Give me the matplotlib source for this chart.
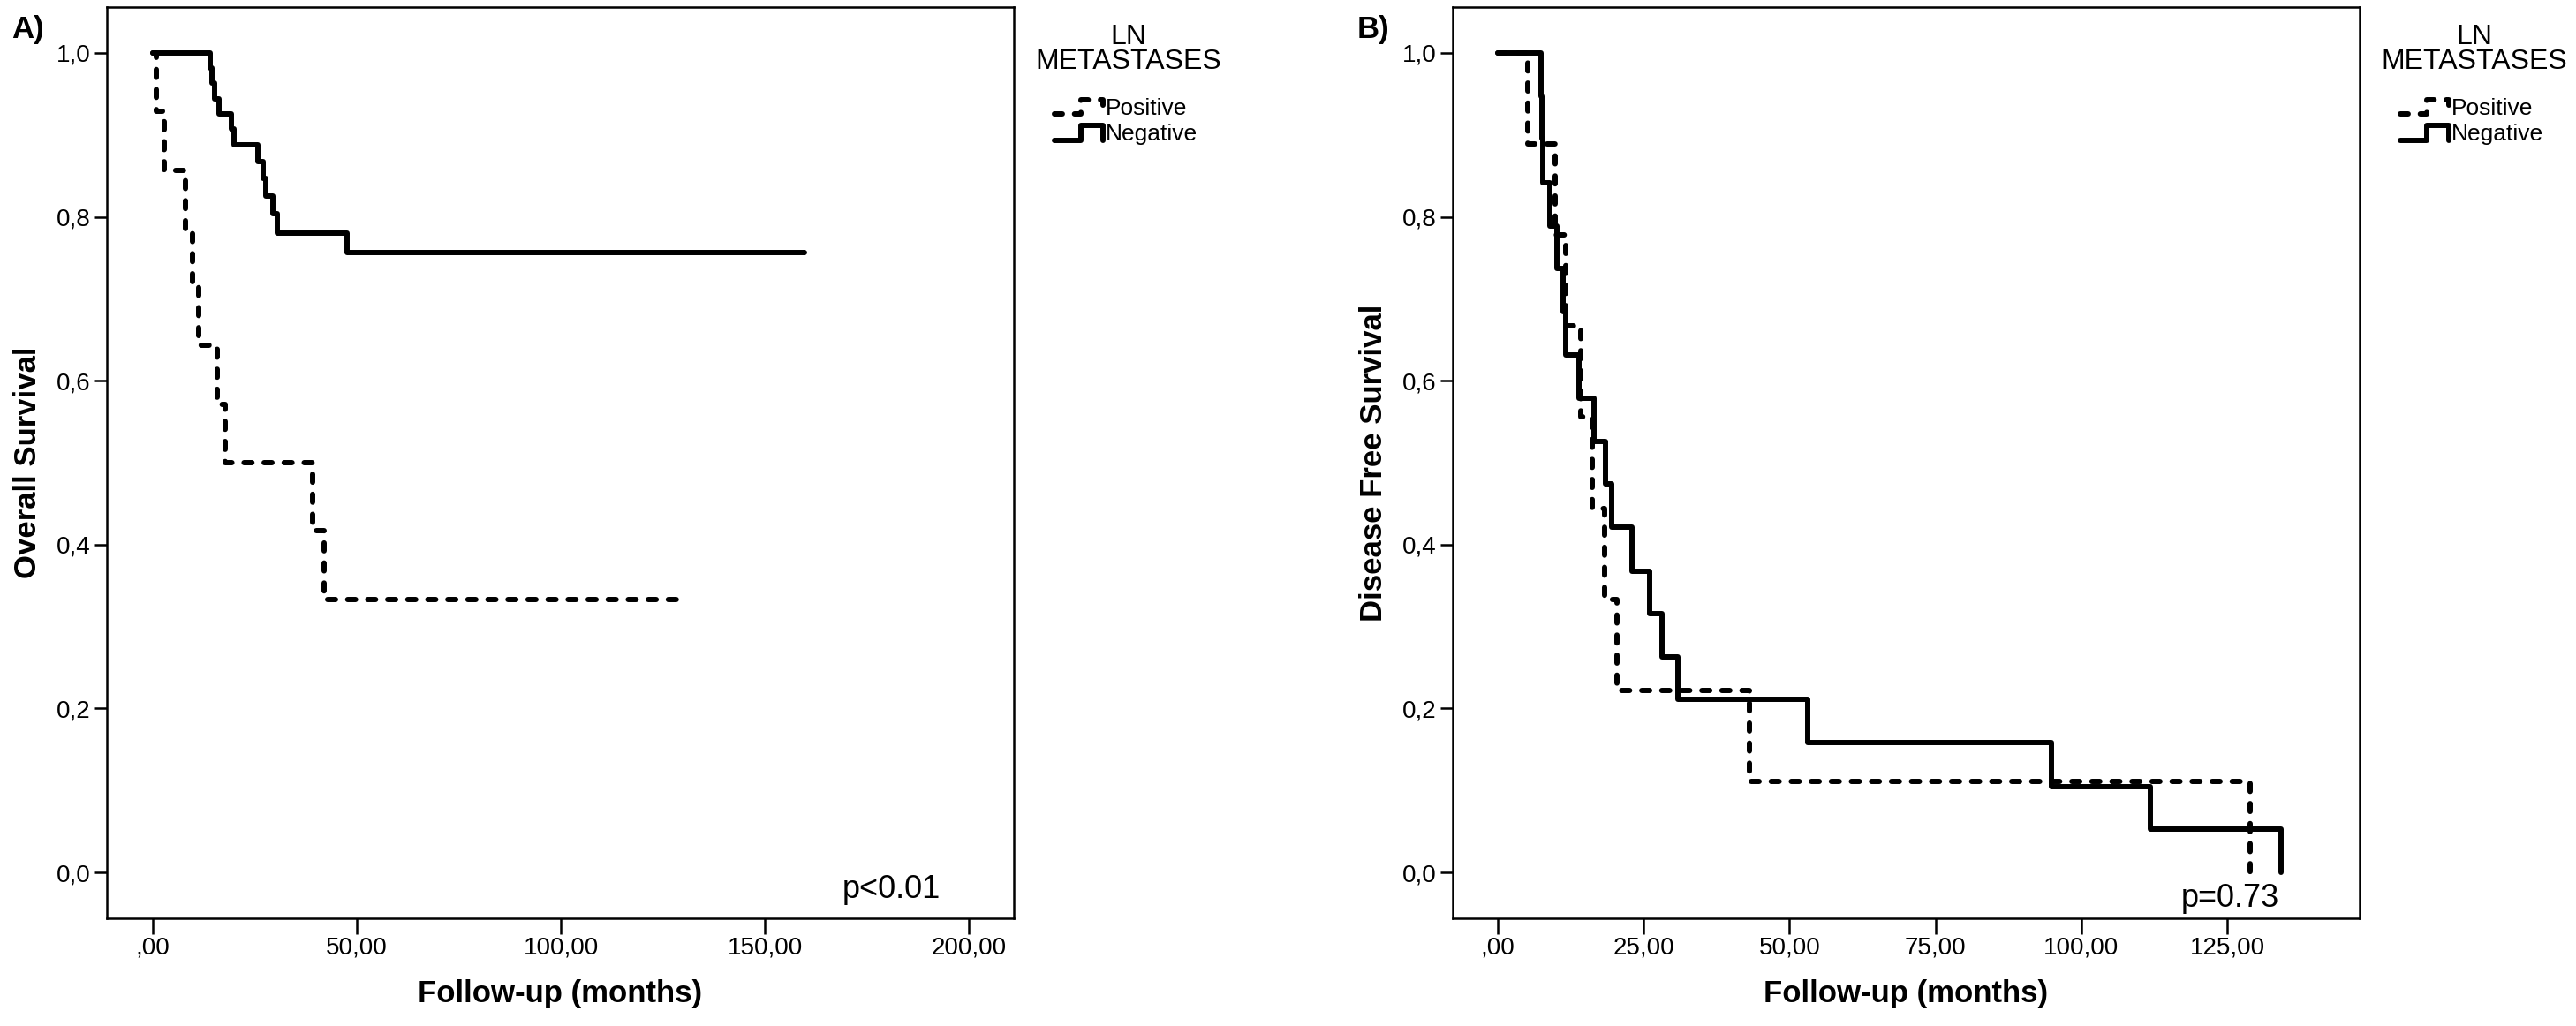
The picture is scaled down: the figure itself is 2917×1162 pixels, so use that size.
import matplotlib
matplotlib.use("Agg")
import matplotlib.pyplot as plt
from matplotlib.lines import Line2D
from matplotlib.legend_handler import HandlerBase

plt.rcParams['font.family'] = ['Liberation Sans', 'DejaVu Sans']

# ---- data ----
# Panel A: overall survival
os_pos_time = [0, 0.8, 2.8, 8.0, 9.8, 11.2, 15.8, 17.7, 39.2, 42.0, 128.7]
os_pos_surv = [1.0, 0.929, 0.857, 0.786, 0.714, 0.643, 0.571, 0.500, 0.417, 0.333, 0.333]
os_neg_time = [0, 14.1, 14.6, 15.2, 16.3, 19.2, 19.9, 25.7, 27.0, 27.8, 29.5, 30.5, 47.7, 159.7]
os_neg_surv = [1.0, 0.982, 0.963, 0.944, 0.926, 0.907, 0.888, 0.867, 0.847, 0.825, 0.804,
               0.780, 0.756, 0.756]

# Panel B: disease free survival
dfs_pos_time = [0, 5.1, 9.9, 11.7, 14.2, 16.2, 18.3, 20.5, 43.2, 128.9]
dfs_pos_surv = [1.0, 0.889, 0.778, 0.667, 0.556, 0.444, 0.333, 0.222, 0.111, 0.0]
dfs_neg_time = [0, 7.4, 7.6, 7.8, 8.9, 10.2, 11.2, 11.6, 14.0, 16.5, 18.5, 19.5, 23.0, 26.1,
                28.1, 30.9, 53.1, 94.9, 111.8, 134.2]
dfs_neg_surv = [1.0, 0.947, 0.895, 0.842, 0.789, 0.737, 0.684, 0.632, 0.579, 0.526, 0.474,
                0.421, 0.368, 0.316, 0.263, 0.211, 0.158, 0.105, 0.053, 0.0]

group_labels = ['Positive', 'Negative']
y_ticks = [0.0, 0.2, 0.4, 0.6, 0.8, 1.0]
xticks_a = [0, 50, 100, 150, 200]
xticks_b = [0, 25, 50, 75, 100, 125]


class StepHandler(HandlerBase):
    """Legend glyph drawn as a little survival step, like SPSS does."""

    def create_artists(self, legend, orig_handle, xdescent, ydescent, width, height,
                       fontsize, trans):
        x0 = -xdescent
        lo = -ydescent + 0.05 * height
        hi = -ydescent + 0.95 * height
        xm = x0 + 0.55 * width
        line = Line2D([x0, xm, xm, x0 + width, x0 + width], [lo, lo, hi, hi, lo])
        self.update_prop(line, orig_handle, legend)
        line.set_transform(trans)
        return [line]


def comma(v, nd):
    s = f"{v:.{nd}f}".replace('.', ',')
    if s.startswith('0,') and nd == 2:
        s = s[1:]
    return s


def km_panel(ax, pos_t, pos_s, neg_t, neg_s, xticks, xlim, ylabel, ptext, pxy):
    lw = 4.3
    ax.step(pos_t, pos_s, where='post', color='black', lw=lw,
            linestyle=(0, (1.5, 2.3)), dash_capstyle='round', label=group_labels[0])
    ax.step(neg_t, neg_s, where='post', color='black', lw=lw,
            solid_capstyle='round', label=group_labels[1])

    ax.set_xlim(*xlim)
    ax.set_ylim(-0.056, 1.056)
    ax.set_xticks(xticks)
    ax.set_xticklabels([comma(v, 2) for v in xticks])
    ax.set_yticks(y_ticks)
    ax.set_yticklabels([comma(v, 1) for v in y_ticks])
    ax.tick_params(axis='x', direction='out', length=13, width=1.8, pad=2, labelsize=20)
    ax.tick_params(axis='y', direction='out', length=10, width=1.8, pad=3.5, labelsize=20)
    for sp in ax.spines.values():
        sp.set_linewidth(1.8)

    ax.set_xlabel('Follow-up (months)', fontsize=25, fontweight='bold', labelpad=16)
    ax.set_ylabel(ylabel, fontsize=25, fontweight='bold', labelpad=11)

    ax.text(pxy[0], pxy[1], ptext, ha='right', va='baseline', fontsize=26)

    ax.text(1.1266, 0.9816, 'LN\nMETASTASES', transform=ax.transAxes, ha='center',
            va='top', fontsize=23, linespacing=0.9, multialignment='center')
    ax.legend(loc='upper center', bbox_to_anchor=(1.1236, 0.9), frameon=False,
              fontsize=19, borderpad=0, borderaxespad=0, handlelength=2.1,
              handletextpad=0.12, labelspacing=0.2,
              handler_map={Line2D: StepHandler()})


fig = plt.figure(figsize=(29.17, 11.62), dpi=100)
ax_a = fig.add_axes([0.04148, 0.10499, 0.35208, 0.88812])
ax_b = fig.add_axes([0.56394, 0.10499, 0.35208, 0.88812])

km_panel(ax_a, os_pos_time, os_pos_surv, os_neg_time, os_neg_surv, xticks_a,
         (-11.26, 211.0), 'Overall Survival', 'p<0.01', (193.1, -0.031))
km_panel(ax_b, dfs_pos_time, dfs_pos_surv, dfs_neg_time, dfs_neg_surv, xticks_b,
         (-7.7, 147.7), 'Disease Free Survival', 'p=0.73', (133.9, -0.042))

fig.text(13 / 2917, 1 - 17 / 1162, 'A)', fontsize=25, fontweight='bold', ha='left', va='top')
fig.text(1537 / 2917, 1 - 17 / 1162, 'B)', fontsize=25, fontweight='bold', ha='left', va='top')

fig.savefig('out.png', dpi=100)
